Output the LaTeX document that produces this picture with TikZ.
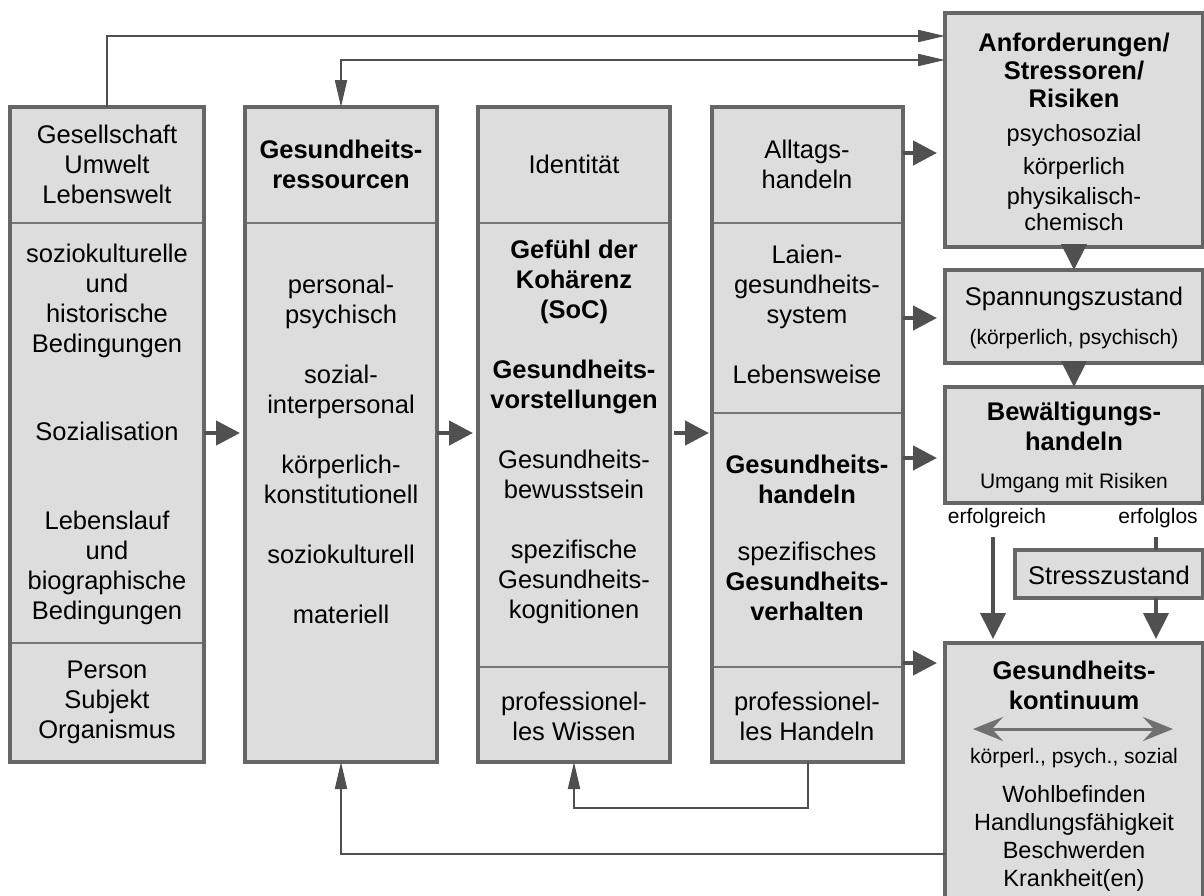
\documentclass[tikz,border=0pt]{standalone}
\usepackage{fontspec}
\setmainfont{Liberation Sans}
\usetikzlibrary{arrows.meta,calc}
\definecolor{BoxFill}{RGB}{221,221,221}
\definecolor{FrameClr}{RGB}{102,102,102}
\definecolor{LineClr}{RGB}{118,118,118}
\definecolor{ArrowClr}{RGB}{80,80,80}
\definecolor{TwoWayClr}{RGB}{112,112,112}
\newcommand\fnorm{\fontsize{25.5}{30}\selectfont}
\newcommand\fmid{\fontsize{23.5}{28}\selectfont}
\newcommand\fsmall{\fontsize{21}{26}\selectfont}

\begin{document}
\begin{tikzpicture}[x=1pt,y=-1pt,
  sec/.style={draw=LineClr,line width=1.5pt,fill=BoxFill,anchor=north west,inner sep=0pt,outer sep=0pt},
  frame/.style={draw=FrameClr,line width=3.5pt},
  rbox/.style={sec,draw=FrameClr,line width=3.5pt},
  txt/.style={align=center,inner sep=0pt,font=\fnorm},
  bigarrow/.style={ArrowClr,line width=4.5pt,-{Triangle[length=24pt,width=24pt]}},
  downarrow/.style={ArrowClr,line width=4pt,-{Triangle[length=26pt,width=25pt]}},
  backline/.style={ArrowClr,line width=2pt,-{Triangle[length=27pt,width=12pt]}},
  twoway/.style={TwoWayClr,line width=3pt,{Stealth[length=30pt,width=24pt,inset=11pt]}-{Stealth[length=30pt,width=24pt,inset=11pt]}}]
\useasboundingbox (0,0) rectangle (1204,895);

% column 1
\node[sec,minimum width=194,minimum height=116] (c1a) at (10,107) {};
\node[sec,minimum width=194,minimum height=420] (c1b) at (10,223) {};
\node[sec,minimum width=194,minimum height=119] (c1c) at (10,643) {};
\draw[frame] (c1a.north west) rectangle (c1c.south east);
\node[txt] (t1a) at (107,164) {Gesellschaft\\Umwelt\\Lebenswelt};
\node[txt] (t1b) at (107,434) {soziokulturelle\\und\\historische\\Bedingungen\\[58pt]Sozialisation\\[59pt]Lebenslauf\\und\\biographische\\Bedingungen};
\node[txt] (t1c) at (107,702) {Person\\Subjekt\\Organismus};

% column 2
\node[sec,minimum width=192,minimum height=116] (c2a) at (245,107) {};
\node[sec,minimum width=192,minimum height=539] (c2b) at (245,223) {};
\draw[frame] (c2a.north west) rectangle (c2b.south east);
\node[txt,font=\fnorm\bfseries] (t2a) at (341,164) {Gesundheits-\\ressourcen};
\node[txt] (t2b) at (341,449) {personal-\\psychisch\\[30pt]sozial-\\interpersonal\\[30pt]k\"orperlich-\\konstitutionell\\[30pt]soziokulturell\\[30pt]materiell};

% column 3
\node[sec,minimum width=192,minimum height=116] (c3a) at (478,107) {};
\node[sec,minimum width=192,minimum height=444] (c3b) at (478,223) {};
\node[sec,minimum width=192,minimum height=95] (c3c) at (478,667) {};
\draw[frame] (c3a.north west) rectangle (c3c.south east);
\node[txt] (t3a) at (574,164) {Identit\"at};
\node[txt] (t3b) at (574,432) {\textbf{Gef\"uhl der}\\\textbf{Koh\"arenz}\\\textbf{(SoC)}\\[30pt]\textbf{Gesundheits-}\\\textbf{vorstellungen}\\[30pt]Gesundheits-\\bewusstsein\\[30pt]spezifische\\Gesundheits-\\kognitionen};
\node[txt] (t3c) at (574,716) {professionel-\\les Wissen};

% column 4
\node[sec,minimum width=191,minimum height=116] (c4a) at (712,107) {};
\node[sec,minimum width=191,minimum height=190] (c4b) at (712,223) {};
\node[sec,minimum width=191,minimum height=254] (c4c) at (712,413) {};
\node[sec,minimum width=191,minimum height=95] (c4d) at (712,667) {};
\draw[frame] (c4a.north west) rectangle (c4d.south east);
\node[txt] (t4a) at (807,164) {Alltags-\\handeln};
\node[txt] (t4b) at (807,314) {Laien-\\gesundheits-\\system\\[30pt]Lebensweise};
\node[txt] (t4c) at (807,538) {\textbf{Gesundheits-}\\\textbf{handeln}\\[27pt]spezifisches\\\textbf{Gesundheits-}\\\textbf{verhalten}};
\node[txt] (t4d) at (807,716) {professionel-\\les Handeln};

% right side
\node[rbox,minimum width=258,minimum height=234] (anf) at (945,13) {};
\node[rbox,minimum width=258,minimum height=93] (span) at (945,270) {};
\node[rbox,minimum width=258,minimum height=116] (bew) at (945,387) {};
\node[rbox,minimum width=188,minimum height=48] (stress) at (1015,550) {};
\node[rbox,minimum width=258,minimum height=256] (kont) at (945,643) {};

\node[txt,font=\fmid] (tanf) at (1074,132) {\fnorm\textbf{Anforderungen/}\\\fnorm\textbf{Stressoren/}\\\fnorm\textbf{Risiken}\\[6pt]psychosozial\\[5pt]k\"orperlich\\[2pt]physikalisch-\\[-2pt]chemisch};
\node[txt] (tspan) at (1074,318) {Spannungszustand\\[9pt]{\fsmall(k\"orperlich, psychisch)}};
\node[txt] (tbew) at (1074,447) {\textbf{Bew\"altigungs-}\\\textbf{handeln}\\[8pt]{\fsmall Umgang mit Risiken}};
\node[txt] (tstress) at (1109,575) {Stresszustand};
\node[txt,font=\fnorm\bfseries] (tkont) at (1074,685) {Gesundheits-\\kontinuum};
\node[txt,font=\fsmall] (tdim) at (1074,758) {k\"orperl., psych., sozial};
\node[txt,font=\fmid] (tstate) at (1074,838) {Wohlbefinden\\Handlungsf\"ahigkeit\\Beschwerden\\Krankheit(en)};
\coordinate (kl) at (973,729);
\coordinate (kr) at (1173,729);
\draw[twoway] (kl) -- (kr);

\node[txt,font=\fsmall] (tok) at (997,518) {erfolgreich};
\node[txt,font=\fsmall] (tfail) at (1158,518) {erfolglos};
\coordinate (okStart) at (993,537);
\coordinate (failStart) at (1156,537);

% flow arrows
\draw[bigarrow,shorten >=5pt] (c1b.east) -- (c1b.east -| c2b.west);
\draw[bigarrow,shorten >=5pt] (c1b.east -| c2b.east) -- (c1b.east -| c3b.west);
\draw[bigarrow,shorten <=4pt,shorten >=3pt] (c1b.east -| c3b.east) -- (c1b.east -| c4c.west);
\draw[bigarrow,shorten >=8pt] ([yshift=12pt]c4a.east) -- ([yshift=12pt]c4a.east -| anf.west);
\draw[bigarrow,shorten >=8pt] (c4b.east) -- (c4b.east -| span.west);
\draw[bigarrow,shorten >=8pt] ([yshift=-13pt]bew.west -| c4c.east) -- ([yshift=-13pt]bew.west);
\draw[bigarrow,shorten >=8pt] ([yshift=4pt]c4c.south east) -- ([yshift=4pt]c4c.south east -| kont.west);
\draw[downarrow] (anf.south) -- (span.north);
\draw[downarrow] (span.south) -- (bew.north);
\draw[downarrow,shorten >=4pt] (okStart) -- (okStart |- kont.north);
\draw[ArrowClr,line width=4pt] (failStart) -- (failStart |- stress.north);
\draw[downarrow,shorten >=4pt] (failStart |- stress.south) -- (failStart |- kont.north);

% feedback lines
\draw[backline] (c1a.north) |- (anf.west |- 0,36);
\draw[backline,{Triangle[length=27pt,width=12pt]}-{Triangle[length=27pt,width=12pt]}] (c2a.north) |- (anf.west |- 0,60);
\draw[backline] (c4d.south) |- (c3c.south |- 0,808) -- (c3c.south);
\draw[backline] (kont.west |- 0,854) -| (c2b.south);

\end{tikzpicture}
\end{document}
